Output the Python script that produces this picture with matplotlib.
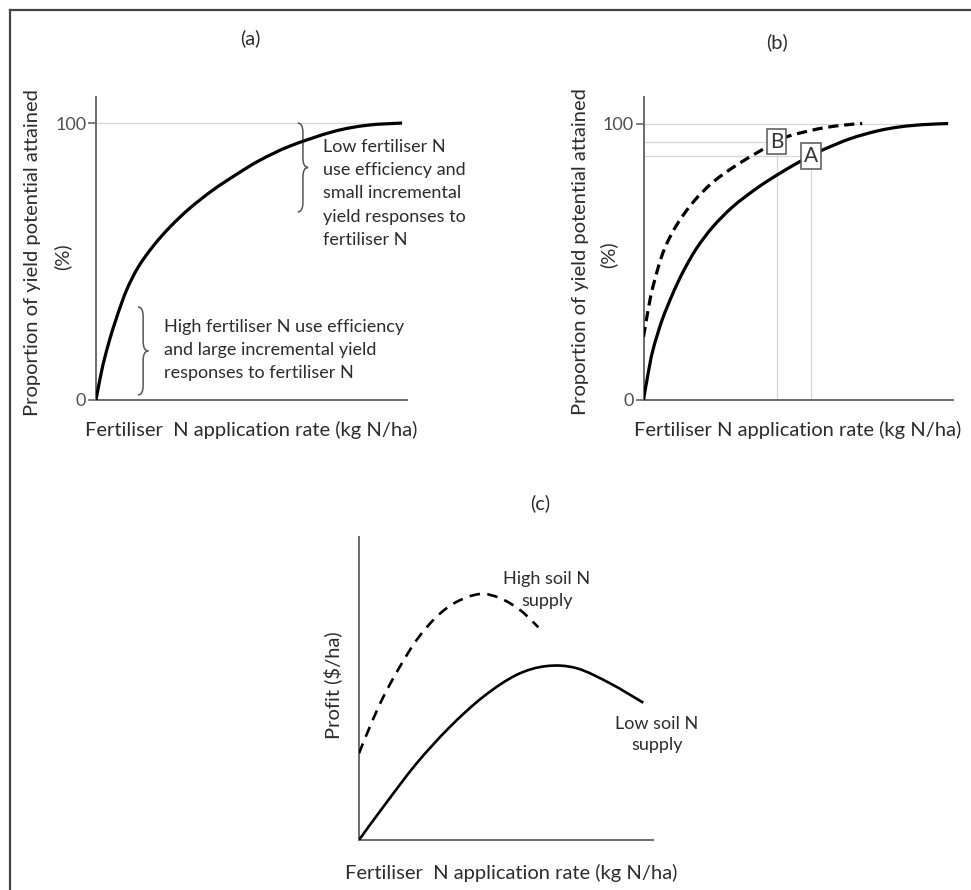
import matplotlib
matplotlib.use('Agg')

import matplotlib.pyplot as plt
from matplotlib.lines import Line2D
from matplotlib.path import Path
from matplotlib.patches import PathPatch

plt.rcParams['font.family'] = ['Lato', 'DejaVu Sans']

# ---- panel (a): yield response curve ----
a_rate = [0, 1.9, 4.0, 6.8, 10.0, 13.8, 18.7, 24.2, 30.7, 38.2, 46.1, 53.6, 63.4, 77.5, 88.6, 100]
a_yield = [0, 10.8, 20.0, 30.0, 39.7, 48.0, 55.6, 62.5, 69.3, 75.8, 81.6, 86.6, 91.7, 96.9, 99.2, 100]

# ---- panel (b): two response curves (A solid, B dashed) ----
b_rate_A = [0, 1.5, 3.1, 6.1, 9.7, 13.1, 17.5, 22.9, 29.5, 37.2, 43.7, 50.3, 55.0, 58.9, 67.8, 76.7, 84.2, 91.8, 100]
b_yield_A = [0, 9.5, 18.1, 28.9, 38.7, 46.6, 55.0, 62.8, 70.1, 76.6, 81.3, 85.6, 88.4, 90.5, 94.5, 97.3, 98.8, 99.6, 100]
b_rate_B = [0, 1.5, 3.1, 6.5, 10.9, 16.4, 22.9, 30.6, 38.3, 43.7, 48.1, 57.0, 64.5, 71.8]
b_yield_B = [22.8, 32.5, 41.0, 53.6, 63.3, 71.7, 78.9, 85.0, 90.1, 93.5, 95.6, 98.0, 99.3, 100]
b_labels = ['A', 'B']
b_label_rate = [55.0, 43.7]
b_label_yield = [88.4, 93.5]

# ---- panel (c): profit curves ----
c_rate_low = [0, 8.3, 19.6, 31.0, 42.3, 53.6, 63.8, 74.0, 85.4, 96.7]
c_profit_low = [0, 11.0, 25.3, 37.4, 47.3, 54.5, 57.4, 56.7, 51.7, 45.3]
c_rate_high = [0, 3.7, 8.3, 13.9, 19.6, 26.4, 33.2, 41.2, 48.0, 54.8, 61.0]
c_profit_high = [28.6, 37.4, 47.3, 57.2, 66.0, 73.7, 78.6, 81.2, 79.8, 75.9, 70.2]

W, H = 971, 890
TXT = '#2c2c2c'
AXC = '#6a6a6a'
GUIDE = '#d6d6d6'
XLAB = 'Fertiliser  N application rate (kg N/ha)'
YLAB = 'Proportion of yield potential attained'
FS_LAB = 14.5
FS_NOTE = 13

fig = plt.figure(figsize=(W / 100, H / 100), dpi=100)


def px(x, y):
    # pixel position (top-left origin) -> figure fraction
    return x / W, 1 - y / H


def axes_px(left, top, right, bottom):
    return fig.add_axes([left / W, 1 - bottom / H, (right - left) / W, (bottom - top) / H])


def style_axes(ax, ticks):
    for s in ('top', 'right'):
        ax.spines[s].set_visible(False)
    for s in ('left', 'bottom'):
        ax.spines[s].set_color(AXC)
        ax.spines[s].set_linewidth(1.4)
    ax.set_xticks([])
    if ticks:
        ax.set_yticks([0, 100])
        ax.tick_params(axis='y', length=6, width=1.2, color=AXC, pad=1,
                       labelsize=13, labelcolor='#505050')
    else:
        ax.set_yticks([])


def curve(ax, xs, ys, lw, dashes=None):
    # smooth cubic path through the points (Catmull-Rom control points)
    pts = list(zip(xs, ys))
    verts, codes = [pts[0]], [Path.MOVETO]
    for i in range(len(pts) - 1):
        p0 = pts[max(i - 1, 0)]
        p1, p2 = pts[i], pts[i + 1]
        p3 = pts[min(i + 2, len(pts) - 1)]
        c1 = (p1[0] + (p2[0] - p0[0]) / 6, p1[1] + (p2[1] - p0[1]) / 6)
        c2 = (p2[0] - (p3[0] - p1[0]) / 6, p2[1] - (p3[1] - p1[1]) / 6)
        verts += [c1, c2, p2]
        codes += [Path.CURVE4] * 3
    ls = '-' if dashes is None else (0, dashes)
    ax.add_patch(PathPatch(Path(verts, codes), fill=False, edgecolor='black', lw=lw,
                           linestyle=ls, joinstyle='round', zorder=3))


def brace(ax, x, top, bottom, w, r):
    mid = (top + bottom) / 2
    verts = [(x - w, top), (x, top), (x, top - r),
             (x, mid + r), (x, mid), (x + w, mid),
             (x, mid), (x, mid - r),
             (x, bottom + r), (x, bottom), (x - w, bottom)]
    codes = [Path.MOVETO, Path.CURVE3, Path.CURVE3,
             Path.LINETO, Path.CURVE3, Path.CURVE3,
             Path.CURVE3, Path.CURVE3,
             Path.LINETO, Path.CURVE3, Path.CURVE3]
    ax.add_patch(PathPatch(Path(verts, codes), fill=False, edgecolor='#555555',
                           lw=1.1, clip_on=False))


# outer frame (top and left edges)
fig.add_artist(Line2D([10 / W, 10 / W], [0, 1 - 10 / H], transform=fig.transFigure,
                      color='#444444', lw=1.6))
fig.add_artist(Line2D([10 / W, 1], [1 - 10 / H, 1 - 10 / H], transform=fig.transFigure,
                      color='#444444', lw=1.6))

# ---------------- (a) ----------------
ax_a = axes_px(96, 97, 407, 400)
ax_a.set_xlim(0, 101.6)
ax_a.set_ylim(0, 109.4)
style_axes(ax_a, True)
ax_a.hlines(100, 0, 100, color=GUIDE, lw=0.9, zorder=1)
curve(ax_a, a_rate, a_yield, 2.3)
brace(ax_a, 67.6, 100, 67.9, 1.7, 3.5)
brace(ax_a, 15.4, 33.6, 1.8, 1.7, 3.5)
ax_a.text(74.3, 94.2, 'Low fertiliser N\nuse efficiency and\nsmall incremental\n'
          'yield responses to\nfertiliser N', ha='left', va='top', fontsize=FS_NOTE,
          color=TXT, linespacing=1.55)
ax_a.text(22.2, 29.4, 'High fertiliser N use efficiency\nand large incremental yield\n'
          'responses to fertiliser N', ha='left', va='top', fontsize=FS_NOTE,
          color=TXT, linespacing=1.55)

fig.text(*px(250, 38), '(a)', ha='center', va='center', fontsize=FS_LAB, color=TXT)
fig.text(*px(251, 430), XLAB, ha='center', va='center', fontsize=FS_LAB, color=TXT)
fig.text(*px(33, 253), YLAB, ha='center', va='center', rotation=90, fontsize=FS_LAB, color=TXT)
fig.text(*px(62, 257), '(%)', ha='center', va='center', rotation=90, fontsize=FS_LAB, color=TXT)

# ---------------- (b) ----------------
ax_b = axes_px(643.5, 97, 953, 400)
ax_b.set_xlim(0, 101.6)
ax_b.set_ylim(0, 109.6)
style_axes(ax_b, True)
ax_b.hlines(100, 0, 100, color=GUIDE, lw=0.9, zorder=1)
for lab, xr, yv in zip(b_labels, b_label_rate, b_label_yield):
    ax_b.hlines(yv, 0, xr, color=GUIDE, lw=0.9, zorder=1)
    ax_b.vlines(xr, 0, yv, color=GUIDE, lw=0.9, zorder=1)
curve(ax_b, b_rate_A, b_yield_A, 2.3)
curve(ax_b, b_rate_B, b_yield_B, 2.3, dashes=(3.2, 1.8))
for lab, xr, yv in zip(b_labels, b_label_rate, b_label_yield):
    ax_b.text(xr, yv, lab, ha='center', va='center', fontsize=15, color='#333333', zorder=5,
              bbox=dict(boxstyle='square,pad=0.14', facecolor='white',
                        edgecolor='#555555', lw=1.1))

fig.text(*px(777, 42), '(b)', ha='center', va='center', fontsize=FS_LAB, color=TXT)
fig.text(*px(798, 430), XLAB.replace('  ', ' '), ha='center', va='center', fontsize=FS_LAB, color=TXT)
fig.text(*px(580, 252), YLAB, ha='center', va='center', rotation=90, fontsize=FS_LAB, color=TXT)
fig.text(*px(608, 255), '(%)', ha='center', va='center', rotation=90, fontsize=FS_LAB, color=TXT)

# ---------------- (c) ----------------
ax_c = axes_px(359, 537, 653, 840)
ax_c.set_xlim(0, 100)
ax_c.set_ylim(0, 100)
style_axes(ax_c, False)
curve(ax_c, c_rate_low, c_profit_low, 1.9)
curve(ax_c, c_rate_high, c_profit_high, 1.9, dashes=(4, 2.8))
ax_c.text(63.9, 82.5, 'High soil N\nsupply', ha='center', va='center', fontsize=FS_NOTE,
          color=TXT, linespacing=1.4)
ax_c.text(101.4, 34.7, 'Low soil N\nsupply', ha='center', va='center', fontsize=FS_NOTE,
          color=TXT, linespacing=1.4, clip_on=False)

fig.text(*px(540, 503), '(c)', ha='center', va='center', fontsize=FS_LAB, color=TXT)
fig.text(*px(511, 873), XLAB, ha='center', va='center', fontsize=FS_LAB, color=TXT)
fig.text(*px(333, 685), r'Profit (\$/ha)', ha='center', va='center', rotation=90,
         fontsize=FS_LAB, color=TXT)

fig.savefig('out.png', dpi=100, facecolor='white')
